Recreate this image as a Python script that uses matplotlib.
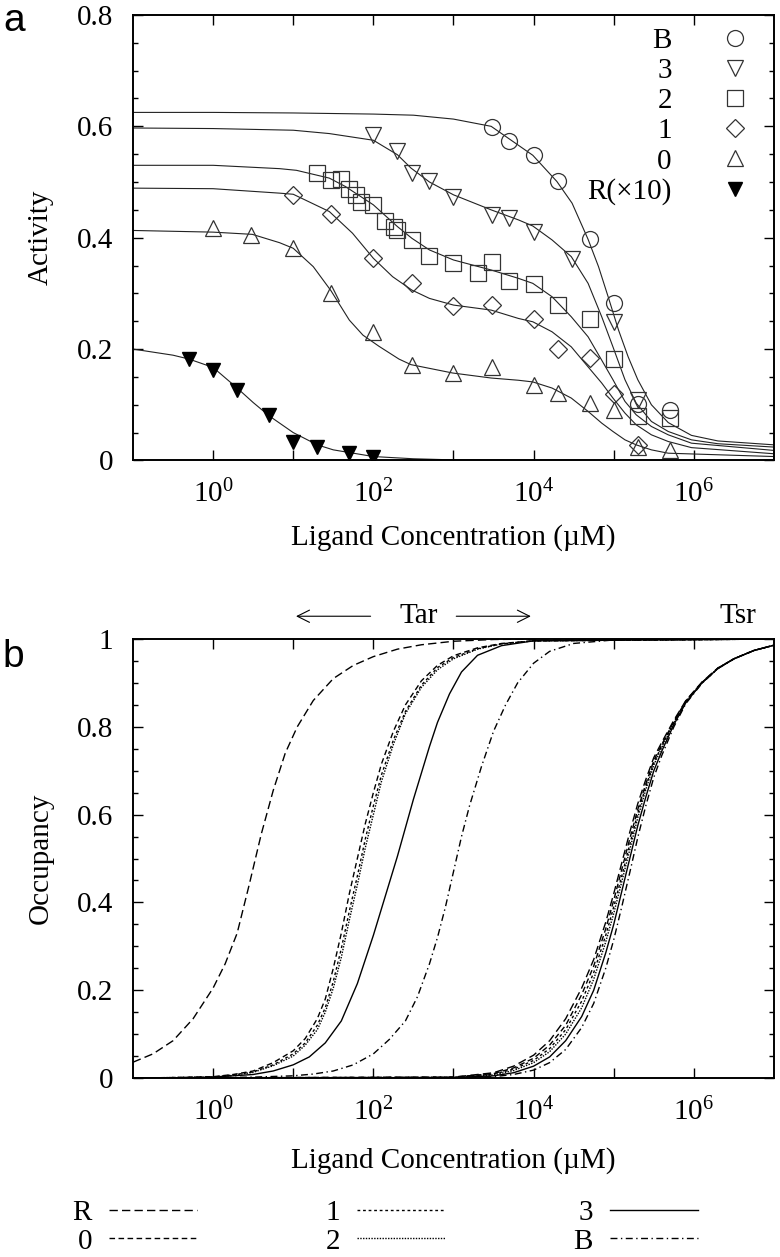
import numpy as np
import matplotlib
matplotlib.use("Agg")
import matplotlib.pyplot as plt
from matplotlib.ticker import FixedLocator, NullFormatter, MultipleLocator, FuncFormatter

plt.rcParams['font.family'] = ['Liberation Serif', 'DejaVu Serif']
plt.rcParams['mathtext.fontset'] = 'custom'
plt.rcParams['mathtext.rm'] = 'Liberation Serif'
plt.rcParams['font.size'] = 21

# ---- panel a: measured activity (concentration in uM) ----
B_x = [3000, 5000, 1e4, 2e4, 5e4, 1e5, 2e5, 5e5]
B_y = [0.599, 0.574, 0.548, 0.501, 0.398, 0.282, 0.102, 0.090]
t3_x = [100, 200, 300, 500, 1000, 3000, 5000, 1e4, 3e4, 1e5, 2e5]
t3_y = [0.584, 0.555, 0.517, 0.501, 0.473, 0.441, 0.435, 0.410, 0.362, 0.248, 0.109]
t2_x = [20, 30, 40, 50, 60, 70, 100, 140, 180, 200, 300, 500, 1000, 2000, 3000,
        5000, 1e4, 2e4, 5e4, 1e5, 2e5, 5e5]
t2_y = [0.517, 0.504, 0.506, 0.488, 0.477, 0.465, 0.459, 0.430, 0.420, 0.414, 0.396,
        0.367, 0.355, 0.336, 0.356, 0.323, 0.317, 0.279, 0.254, 0.182, 0.079, 0.076]
t1_x = [10, 30, 100, 300, 1000, 3000, 1e4, 2e4, 5e4, 1e5, 2e5]
t1_y = [0.477, 0.442, 0.363, 0.319, 0.277, 0.279, 0.254, 0.201, 0.184, 0.119, 0.028]
t0_x = [1, 3, 10, 30, 100, 300, 1000, 3000, 1e4, 2e4, 5e4, 1e5, 2e5, 5e5]
t0_y = [0.417, 0.405, 0.382, 0.300, 0.231, 0.171, 0.157, 0.168, 0.135, 0.122,
        0.104, 0.091, 0.024, 0.019]
R_x = [0.5, 1, 2, 5, 10, 20, 50, 100]
R_y = [0.182, 0.162, 0.126, 0.082, 0.034, 0.024, 0.014, 0.007]

# fitted curves of panel a (log10 concentration, activity)
fitB_lx = [-1, 0, 1, 2, 2.5, 3, 3.47, 3.99, 4.29, 4.48, 4.68, 4.81, 4.93, 5.06, 5.18,
           5.3, 5.47, 5.68, 5.97, 6.3, 7]
fitB_y = [0.625, 0.625, 0.624, 0.622, 0.620, 0.613, 0.600, 0.548, 0.501, 0.462, 0.397,
          0.348, 0.294, 0.234, 0.186, 0.145, 0.100, 0.068, 0.045, 0.035, 0.028]
fit3_lx = [-1, 0, 1, 1.45, 2, 2.3, 2.47, 2.7, 3, 3.47, 3.81, 3.99, 4.23, 4.47, 4.68,
           4.85, 4.99, 5.14, 5.28, 5.47, 5.68, 5.97, 6.3, 7]
fit3_y = [0.597, 0.596, 0.593, 0.587, 0.575, 0.549, 0.525, 0.500, 0.477, 0.450, 0.432,
          0.421, 0.396, 0.366, 0.318, 0.258, 0.204, 0.145, 0.103, 0.070, 0.052, 0.037,
          0.030, 0.024]
fit2_lx = [-1, 0, 0.83, 1.04, 1.45, 1.65, 2, 2.3, 2.48, 2.7, 3, 3.47, 3.81, 3.99, 4.23,
           4.47, 4.68, 4.85, 4.99, 5.14, 5.28, 5.47, 5.68, 5.97, 7]
fit2_y = [0.530, 0.530, 0.524, 0.521, 0.507, 0.492, 0.459, 0.420, 0.399, 0.378, 0.360,
          0.342, 0.327, 0.318, 0.294, 0.258, 0.222, 0.180, 0.145, 0.106, 0.082, 0.061,
          0.046, 0.031, 0.018]
fit1_lx = [-1, 0, 0.83, 1.0, 1.45, 1.74, 2.0, 2.24, 2.48, 2.7, 3.0, 3.47, 3.81, 3.99,
           4.23, 4.47, 4.68, 4.85, 4.99, 5.14, 5.28, 5.47, 5.68, 5.97, 7]
fit1_y = [0.489, 0.488, 0.480, 0.478, 0.447, 0.408, 0.363, 0.330, 0.306, 0.291, 0.279,
          0.270, 0.255, 0.249, 0.231, 0.204, 0.168, 0.139, 0.112, 0.085, 0.064, 0.046,
          0.034, 0.023, 0.012]
fit0_lx = [-1, 0, 0.49, 0.83, 1.0, 1.25, 1.47, 1.7, 1.87, 2.07, 2.32, 2.47, 2.99, 3.47,
           3.81, 3.99, 4.23, 4.47, 4.68, 4.85, 4.99, 5.14, 5.28, 5.47, 5.68, 7]
fit0_y = [0.413, 0.410, 0.406, 0.391, 0.381, 0.348, 0.305, 0.252, 0.225, 0.205, 0.182,
          0.172, 0.157, 0.148, 0.144, 0.141, 0.130, 0.112, 0.088, 0.067, 0.052, 0.037,
          0.028, 0.019, 0.013, 0.007]
fitR_lx = [-1, -0.5, -0.3, 0, 0.3, 0.5, 0.7, 1.0, 1.3, 1.5, 2.0, 2.5, 3.0, 4.0, 7.0]
fitR_y = [0.200, 0.189, 0.182, 0.167, 0.130, 0.104, 0.080, 0.050, 0.028, 0.019, 0.007,
          0.003, 0.001, 0.0, 0.0]

# ---- panel b: occupancy (log10 concentration, occupancy) ----
tarR_lx = [-1, -0.75, -0.5, -0.25, 0, 0.15, 0.3, 0.45, 0.6, 0.75, 0.9, 1.05, 1.25, 1.5,
           1.75, 2.0, 2.3, 2.6, 3.0, 3.5, 4.0, 7.0]
tarR_y = [0.036, 0.055, 0.085, 0.135, 0.205, 0.26, 0.33, 0.44, 0.555, 0.655, 0.74, 0.80,
          0.86, 0.91, 0.94, 0.96, 0.977, 0.987, 0.995, 0.999, 1.0, 1.0]
tar_lx = [-1, -0.5, 0, 0.25, 0.5, 0.75, 1.0, 1.15, 1.3, 1.4, 1.5, 1.6, 1.7, 1.8, 1.9,
          2.0, 2.1, 2.25, 2.4, 2.6, 2.8, 3.0, 3.3, 3.6, 4.0, 7.0]
tar0_y = [0.0, 0.001, 0.003, 0.008, 0.016, 0.035, 0.062, 0.09, 0.135, 0.18, 0.25, 0.33,
          0.42, 0.50, 0.58, 0.65, 0.715, 0.79, 0.85, 0.905, 0.94, 0.962, 0.98, 0.99,
          0.996, 1.0]
tar1_y = [0.0, 0.001, 0.002, 0.007, 0.014, 0.03, 0.055, 0.08, 0.12, 0.16, 0.22, 0.295,
          0.38, 0.46, 0.545, 0.62, 0.69, 0.77, 0.835, 0.895, 0.935, 0.958, 0.978, 0.989,
          0.996, 1.0]
tar2_y = [0.0, 0.001, 0.002, 0.006, 0.013, 0.028, 0.05, 0.075, 0.11, 0.15, 0.205, 0.275,
          0.36, 0.44, 0.525, 0.60, 0.675, 0.76, 0.83, 0.89, 0.93, 0.955, 0.977, 0.989,
          0.996, 1.0]
tar3_lx = [-1, -0.5, 0, 0.5, 0.75, 1.0, 1.2, 1.4, 1.6, 1.8, 1.9, 2.0, 2.1, 2.2, 2.3, 2.4,
           2.5, 2.6, 2.7, 2.8, 2.95, 3.1, 3.3, 3.6, 4.0, 7.0]
tar3_y = [0.0, 0.0005, 0.002, 0.008, 0.016, 0.03, 0.048, 0.08, 0.13, 0.215, 0.27, 0.325,
          0.385, 0.445, 0.505, 0.57, 0.635, 0.695, 0.755, 0.81, 0.875, 0.925, 0.963,
          0.985, 0.996, 1.0]
tarB_lx = [-1, 0, 0.5, 1.0, 1.25, 1.5, 1.75, 2.0, 2.2, 2.4, 2.55, 2.7, 2.8, 2.9, 3.0,
           3.1, 3.2, 3.35, 3.5, 3.65, 3.8, 4.0, 4.2, 4.5, 5.0, 7.0]
tarB_y = [0.0, 0.001, 0.002, 0.005, 0.009, 0.016, 0.03, 0.055, 0.088, 0.13, 0.185, 0.26,
          0.32, 0.39, 0.47, 0.55, 0.62, 0.71, 0.79, 0.85, 0.90, 0.945, 0.972, 0.99,
          0.998, 1.0]

tsr_lx = [-1, 3.0, 3.5, 3.75, 4.0, 4.2, 4.4, 4.6, 4.75, 4.9, 5.0, 5.1, 5.2, 5.3, 5.4,
          5.5, 5.6, 5.75, 5.9, 6.1, 6.3, 6.5, 6.75, 7.0]
tsrR_y = [0, 0.002, 0.012, 0.027, 0.052, 0.085, 0.135, 0.205, 0.27, 0.355, 0.42, 0.49,
          0.56, 0.625, 0.68, 0.73, 0.765, 0.815, 0.86, 0.902, 0.934, 0.955, 0.974, 0.986]
tsr0_y = [0, 0.002, 0.010, 0.023, 0.045, 0.075, 0.12, 0.19, 0.255, 0.34, 0.405, 0.475,
          0.545, 0.612, 0.67, 0.723, 0.76, 0.812, 0.859, 0.901, 0.934, 0.955, 0.974, 0.986]
tsr1_y = [0, 0.0015, 0.009, 0.02, 0.04, 0.067, 0.11, 0.175, 0.24, 0.325, 0.39, 0.46,
          0.532, 0.603, 0.664, 0.718, 0.757, 0.81, 0.858, 0.90, 0.933, 0.955, 0.974, 0.986]
tsr2_y = [0, 0.001, 0.007, 0.017, 0.035, 0.06, 0.10, 0.16, 0.225, 0.31, 0.375, 0.447,
          0.52, 0.593, 0.657, 0.713, 0.753, 0.808, 0.857, 0.90, 0.933, 0.955, 0.974, 0.986]
tsr3_y = [0, 0.001, 0.005, 0.012, 0.027, 0.048, 0.085, 0.14, 0.20, 0.285, 0.35, 0.425,
          0.50, 0.575, 0.64, 0.70, 0.745, 0.805, 0.855, 0.90, 0.933, 0.955, 0.974, 0.986]
tsrB_y = [0, 0.0005, 0.003, 0.008, 0.018, 0.035, 0.065, 0.115, 0.17, 0.25, 0.315, 0.39,
          0.468, 0.548, 0.62, 0.685, 0.735, 0.80, 0.853, 0.899, 0.933, 0.955, 0.974, 0.986]


def style_axis(ax, ymax):
    ax.set_xscale('log')
    ax.set_xlim(1e-1, 1e7)
    ax.set_ylim(0, ymax)
    ax.xaxis.set_major_locator(FixedLocator([1, 1e2, 1e4, 1e6]))
    ax.xaxis.set_minor_locator(FixedLocator([10, 1e3, 1e5]))
    ax.xaxis.set_minor_formatter(NullFormatter())
    ax.yaxis.set_major_locator(MultipleLocator(0.2))
    ax.yaxis.set_minor_locator(MultipleLocator(0.05))
    ax.yaxis.set_major_formatter(FuncFormatter(lambda v, p: '%g' % round(v, 2)))
    ax.tick_params(which='both', direction='in', top=True, right=True, width=1.0)
    ax.tick_params(axis='y', which='major', length=7, pad=14)
    ax.tick_params(axis='y', which='minor', length=3.5)
    ax.tick_params(axis='x', which='both', length=7, pad=14)
    for s in ax.spines.values():
        s.set_linewidth(1.4)


fig = plt.figure(figsize=(7.8, 12.57), dpi=100)
ax1 = fig.add_axes([0.1705, 0.6337, 0.8218, 0.3544])
ax2 = fig.add_axes([0.1705, 0.1424, 0.8218, 0.3492])

# panel a
fitc = '#222222'
for lx, y in [(fitB_lx, fitB_y), (fit3_lx, fit3_y), (fit2_lx, fit2_y),
              (fit1_lx, fit1_y), (fit0_lx, fit0_y), (fitR_lx, fitR_y)]:
    ax1.plot(10 ** np.array(lx), y, color=fitc, lw=0.8)

mk = dict(ls='none', mfc='none', mec='#333333', mew=0.9)
ax1.plot(B_x, B_y, marker='o', ms=11.5, label='B', **mk)
ax1.plot(t3_x, t3_y, marker='v', ms=11.5, label='3', **mk)
ax1.plot(t2_x, t2_y, marker='s', ms=12, label='2', **mk)
ax1.plot(t1_x, t1_y, marker='D', ms=9.5, label='1', **mk)
ax1.plot(t0_x, t0_y, marker='^', ms=11.5, label='0', **mk)
ax1.plot(R_x, R_y, marker='v', ms=10, ls='none', color='black', label='R(×10)')

style_axis(ax1, 0.8)
ax1.set_ylabel('Activity')
ax1.set_xlabel('Ligand Concentration (µM)')
ax1.yaxis.set_label_coords(-0.123, 0.5)
ax1.xaxis.set_label_coords(0.5, -0.142)
ax1.legend(loc='upper right', bbox_to_anchor=(0.962, 0.971), markerfirst=False,
           frameon=False, handlelength=1.0, handletextpad=1.67, labelspacing=0.125,
           borderpad=0, borderaxespad=0, numpoints=1)

# panel b
styles = {'R': (0, (6, 3)), '0': (0, (4, 2.5)), '1': (0, (2, 2)), '2': (0, (1, 1)),
          '3': '-', 'B': (0, (5, 2.5, 1, 2.5))}
tar_curves = [('R', tarR_lx, tarR_y), ('0', tar_lx, tar0_y), ('1', tar_lx, tar1_y),
              ('2', tar_lx, tar2_y), ('3', tar3_lx, tar3_y), ('B', tarB_lx, tarB_y)]
tsr_curves = [('R', tsrR_y), ('0', tsr0_y), ('1', tsr1_y), ('2', tsr2_y),
              ('3', tsr3_y), ('B', tsrB_y)]
handles = []
for name, lx, y in tar_curves:
    h, = ax2.plot(10 ** np.array(lx), y, color='black', lw=1.0, ls=styles[name], label=name)
    handles.append(h)
for name, y in tsr_curves:
    ax2.plot(10 ** np.array(tsr_lx), y, color='black', lw=1.0, ls=styles[name])

style_axis(ax2, 1.0)
ax2.set_ylabel('Occupancy')
ax2.set_xlabel('Ligand Concentration (µM)')
ax2.yaxis.set_label_coords(-0.123, 0.5)
ax2.xaxis.set_label_coords(0.5, -0.158)

arr = dict(arrowstyle='->', lw=0.8, color='black', mutation_scale=22)
ax2.annotate('', xy=(10, 1.052), xytext=(100, 1.052), xycoords=('data', 'axes fraction'),
             textcoords=('data', 'axes fraction'), arrowprops=arr, annotation_clip=False)
ax2.annotate('', xy=(1e4, 1.052), xytext=(1e3, 1.052), xycoords=('data', 'axes fraction'),
             textcoords=('data', 'axes fraction'), arrowprops=arr, annotation_clip=False)
ax2.text(10 ** 2.57, 1.052, 'Tar', ha='center', va='center',
         transform=ax2.get_xaxis_transform())
ax2.text(10 ** 6.55, 1.052, 'Tsr', ha='center', va='center',
         transform=ax2.get_xaxis_transform())

fig.legend(handles=handles, labels=[h.get_label() for h in handles], ncol=3,
           loc='upper left', bbox_to_anchor=(0.093, 0.0455), markerfirst=False,
           frameon=False, handlelength=3.0, handletextpad=0.6, columnspacing=4.4,
           labelspacing=0.07, borderpad=0, borderaxespad=0)

fig.text(0.004, 1 - 21 / 1257, 'a', family='Liberation Sans', fontsize=28, va='center')
fig.text(0.003, 1 - 657 / 1257, 'b', family='Liberation Sans', fontsize=28, va='center')

fig.savefig('out.png', dpi=100)
